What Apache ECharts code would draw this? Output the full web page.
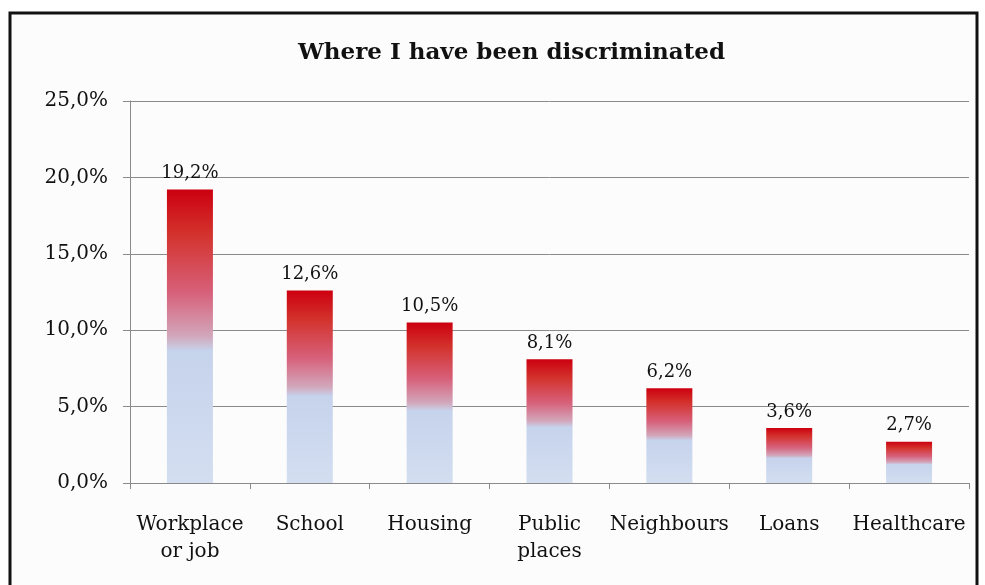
<!DOCTYPE html>
<html>
<head>
<meta charset="utf-8">
<script src="https://cdn.jsdelivr.net/npm/echarts@6/dist/echarts.min.js"></script>
<style>
html,body{margin:0;padding:0;background:#ffffff;}
#main{width:985px;height:585px;}
</style>
</head>
<body>
<div id="main"></div>
<script>
var titleText = 'Where I have been discriminated';
var categories = ['Workplace\nor job', 'School', 'Housing', 'Public\nplaces', 'Neighbours', 'Loans', 'Healthcare'];
var values = [19.2, 12.6, 10.5, 8.1, 6.2, 3.6, 2.7];
var yMin = 0, yMax = 25, yStep = 5;

function pct(v) { return v.toFixed(1).replace('.', ',') + '%'; }

var chart = echarts.init(document.getElementById('main'), null, {renderer: 'canvas'});
var serif = 'DejaVu Serif';
chart.setOption({
  backgroundColor: '#ffffff',
  animation: false,
  graphic: [{
    type: 'rect', z: -10, silent: true,
    shape: {x: 10, y: 13, width: 967, height: 600},
    style: {fill: '#fcfcfc', stroke: '#111111', lineWidth: 3}
  }],
  title: {
    text: titleText, left: 293, top: 37,
    textStyle: {fontFamily: serif, fontWeight: 'bold', fontSize: 23, color: '#111'}
  },
  grid: {left: 130, right: 16, top: 101, bottom: 102, containLabel: false},
  xAxis: {
    type: 'category', data: categories,
    axisLine: {lineStyle: {color: '#8a8a8a', width: 1}},
    axisTick: {show: true, alignWithLabel: false, length: 6, lineStyle: {color: '#8a8a8a'}},
    axisLabel: {fontFamily: serif, fontSize: 20, color: '#111', margin: 28, lineHeight: 27, interval: 0}
  },
  yAxis: {
    type: 'value', min: yMin, max: yMax, interval: yStep,
    axisLine: {show: true, lineStyle: {color: '#8a8a8a', width: 1}},
    axisTick: {show: true, length: 7, lineStyle: {color: '#8a8a8a'}},
    splitLine: {lineStyle: {color: '#8a8a8a', width: 1}},
    axisLabel: {fontFamily: serif, fontSize: 20, color: '#111', margin: 22, formatter: function (v) { return pct(v); }}
  },
  series: [{
    type: 'bar', data: values, barWidth: 46,
    itemStyle: {
      color: new echarts.graphic.LinearGradient(0, 0, 0, 1, [
        {offset: 0, color: '#cc0010'},
        {offset: 0.15, color: '#d3322c'},
        {offset: 0.35, color: '#d7607a'},
        {offset: 0.5, color: '#d2a7bb'},
        {offset: 0.55, color: '#c6d3ec'},
        {offset: 1, color: '#d3def0'}
      ])
    },
    label: {
      show: true, position: 'top', distance: 7,
      fontFamily: serif, fontSize: 18, color: '#111',
      formatter: function (p) { return pct(p.value); }
    }
  }]
});
</script>
</body>
</html>
